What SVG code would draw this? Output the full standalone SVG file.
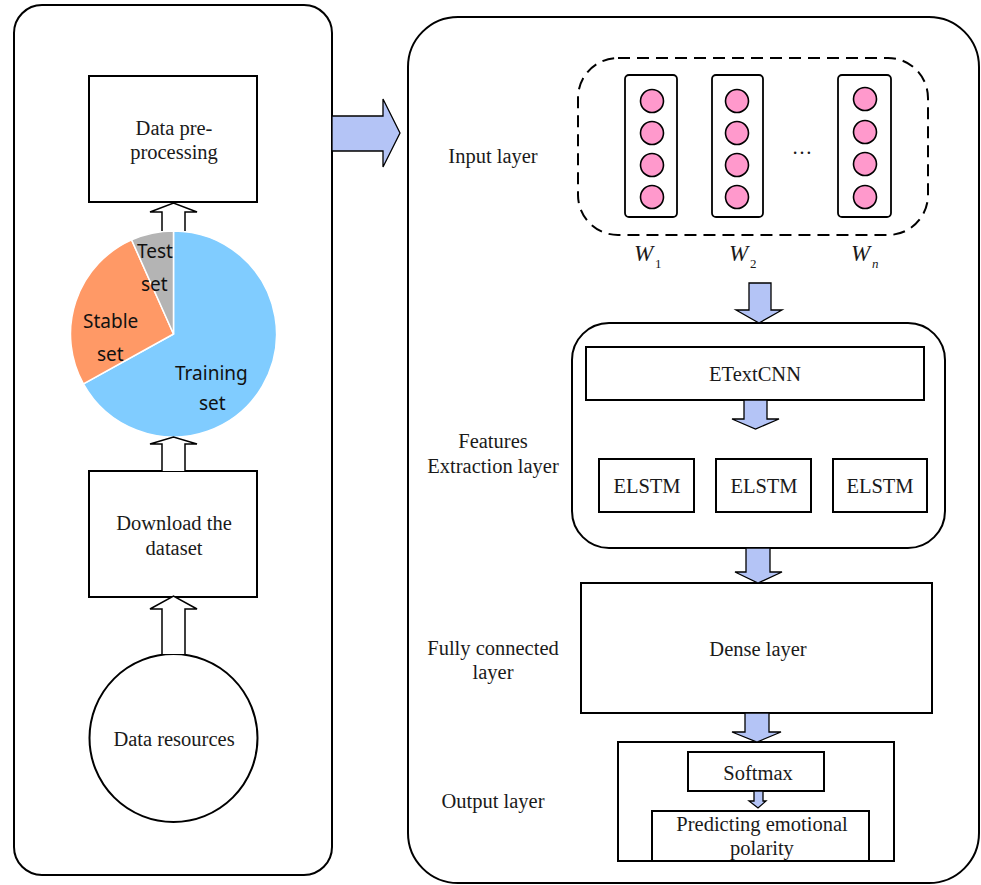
<svg xmlns="http://www.w3.org/2000/svg" width="981" height="885" viewBox="0 0 981 885">
<defs>
<style>
.panel{fill:#fff;stroke:#000;stroke-width:2}
.box{fill:#fff;stroke:#000;stroke-width:2}
.t{font-family:"Liberation Serif","Times New Roman",serif;font-size:20.5px;fill:#1a1a1a;text-anchor:middle}
.ps{font-family:"Noto Sans","Open Sans",sans-serif;font-size:19px;fill:#111}
.open{fill:#fff;stroke:#000;stroke-width:1.5;stroke-linejoin:miter}
.blue{fill:#b4c4f6;stroke:#000;stroke-width:1.3;stroke-linejoin:miter}
.dot{fill:#ff99cc;stroke:#000;stroke-width:1.6}
.vec{fill:#fff;stroke:#000;stroke-width:1.8}
.w{font-family:"Liberation Serif","Times New Roman",serif;font-size:23px;font-style:italic;fill:#1a1a1a}
.sub{font-family:"Liberation Serif","Times New Roman",serif;font-size:13px;fill:#1a1a1a}
</style>
</defs>
<rect width="981" height="885" fill="#fff"/>

<g id="left-panel">
<rect class="panel" x="14" y="5" width="318" height="870" rx="28" ry="28"/>
</g>
<g id="right-panel">
<rect class="panel" x="408" y="17" width="571" height="866" rx="50" ry="50"/>
</g>

<g id="data-preprocessing">
<rect class="box" x="89" y="76" width="168" height="126"/>
<text class="t" x="174" y="135">Data pre-</text>
<text class="t" x="174" y="159">processing</text>
</g>

<g id="pie">
<path d="M173.5,334 L173.5,231 A103,103 0 1 1 83.4,383.9 Z" fill="#80ccff" stroke="#fff" stroke-width="1.5"/>
<path d="M173.5,334 L83.4,383.9 A103,103 0 0 1 131.6,239.9 Z" fill="#ff9966" stroke="#fff" stroke-width="1.5"/>
<path d="M173.5,334 L131.6,239.9 A103,103 0 0 1 173.5,231 Z" fill="#b4b4b4" stroke="#fff" stroke-width="1.5"/>
<text class="ps" x="137" y="258">Test</text>
<text class="ps" x="141" y="291">set</text>
<text class="ps" x="83" y="328">Stable</text>
<text class="ps" x="97" y="361">set</text>
<text class="ps" x="175" y="380">Training</text>
<text class="ps" x="199" y="410">set</text>
</g>

<g id="download">
<rect class="box" x="89" y="471" width="168" height="126"/>
<text class="t" x="174" y="530">Download the</text>
<text class="t" x="174" y="555">dataset</text>
</g>

<g id="data-resources">
<circle class="box" cx="173.5" cy="738" r="84"/>
<text class="t" x="174" y="746">Data resources</text>
</g>

<g id="input-layer">
<text class="t" x="493" y="163">Input layer</text>
<rect x="578" y="58" width="350" height="177" rx="40" ry="40" fill="none" stroke="#000" stroke-width="2" stroke-dasharray="12,7"/>
<rect class="vec" x="625" y="75" width="52" height="142" rx="4"/>
<rect class="vec" x="712" y="75" width="51" height="142" rx="4"/>
<rect class="vec" x="838" y="75" width="53" height="142" rx="4"/>
<circle class="dot" cx="652" cy="101" r="11.5"/>
<circle class="dot" cx="652" cy="133" r="11.5"/>
<circle class="dot" cx="652" cy="165" r="11.5"/>
<circle class="dot" cx="652" cy="197" r="11.5"/>
<circle class="dot" cx="737" cy="101" r="11.5"/>
<circle class="dot" cx="737" cy="133" r="11.5"/>
<circle class="dot" cx="737" cy="165" r="11.5"/>
<circle class="dot" cx="737" cy="197" r="11.5"/>
<circle class="dot" cx="865" cy="99" r="11.5"/>
<circle class="dot" cx="865" cy="132" r="11.5"/>
<circle class="dot" cx="865" cy="164" r="11.5"/>
<circle class="dot" cx="865" cy="197" r="11.5"/>
<text class="t" x="802" y="154">…</text>
<text class="w" x="634" y="261">W</text><text class="sub" x="655" y="268">1</text>
<text class="w" x="729" y="261">W</text><text class="sub" x="750" y="268">2</text>
<text class="w" x="851" y="261">W</text><text class="sub" x="872" y="268" font-style="italic">n</text>
</g>

<g id="features">
<text class="t" x="493" y="448">Features</text>
<text class="t" x="493" y="473">Extraction layer</text>
<rect class="box" x="572" y="323" width="373" height="225" rx="37" ry="37"/>
<rect class="box" x="586" y="347" width="338" height="53"/>
<text class="t" x="755" y="381">ETextCNN</text>
<rect class="box" x="599" y="459" width="95" height="53"/>
<text class="t" x="647" y="493">ELSTM</text>
<rect class="box" x="716" y="459" width="95" height="53"/>
<text class="t" x="764" y="493">ELSTM</text>
<rect class="box" x="833" y="459" width="94" height="53"/>
<text class="t" x="880" y="493">ELSTM</text>
</g>

<g id="dense">
<text class="t" x="493" y="655">Fully connected</text>
<text class="t" x="493" y="679">layer</text>
<rect class="box" x="581" y="583" width="351" height="130"/>
<text class="t" x="758" y="656">Dense layer</text>
</g>

<g id="output">
<text class="t" x="493" y="808">Output layer</text>
<rect class="box" x="618" y="742" width="276" height="119"/>
<rect class="box" x="688" y="752" width="136" height="39"/>
<text class="t" x="758" y="780">Softmax</text>
<rect class="box" x="652" y="811" width="217" height="50"/>
<text class="t" x="762" y="831">Predicting emotional</text>
<text class="t" x="762" y="855">polarity</text>
</g>

<g id="connectors">
<path class="open" d="M162,231 V212 H150 L173.5,203 L197,212 H185 V231"/>
<path class="open" d="M162,471 V444 H150 L173.5,437 L197,444 H185 V471"/>
<path class="open" d="M162,654 V609 H150 L173.5,596 L197,609 H185 V654"/>
<path class="blue" d="M332,116 H383 V99 L400,133 L383,167 V151 H332 Z"/>
<path class="blue" d="M749,283 H771 V310 H782 L759,323 L736,310 H749 Z"/>
<path class="blue" d="M744,400 H767 V419 H779 L755.5,429 L732,419 H744 Z"/>
<path class="blue" d="M746,548 H770 V572 H782 L758,583 L735,572 H746 Z"/>
<path class="blue" d="M745,713 H769 V732 H781 L757,742 L732,732 H745 Z"/>
<path class="blue" d="M754,791 H763 V801 H766 L758,808 L749,801 H754 Z"/>
</g>
</svg>
